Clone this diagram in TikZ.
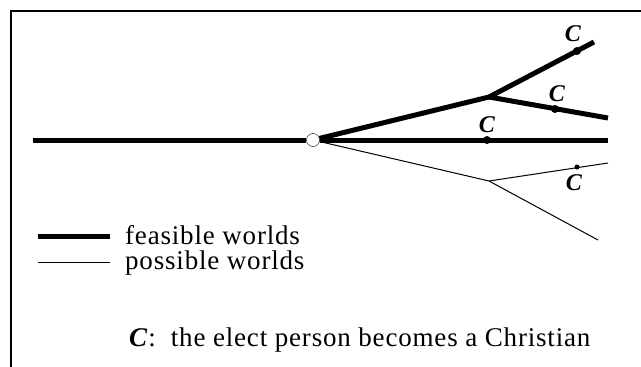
\documentclass[tikz,border=0pt]{standalone}
\usepackage{fontspec}
\setmainfont[LetterSpace=3]{Liberation Serif}
\tikzset{
  feasible/.style={line width=5pt},
  possible/.style={line width=1pt},
  event/.style={circle, fill=black, inner sep=0pt, minimum size=5pt},
  bigevent/.style={event, minimum size=8pt},
  elabel/.style={font=\fontsize{24}{24}\selectfont\bfseries\itshape, inner sep=0pt},
  legtext/.style={font=\fontsize{27}{30}\selectfont, inner sep=0pt, anchor=base west},
}
\begin{document}
\begin{tikzpicture}[x=1pt,y=-1pt]
  \useasboundingbox (0,0) rectangle (641,367);
  \draw[line width=2pt] (11,367) -- (11,11) -- (641,11);
  % points of the tree
  \coordinate (start) at (33,140);
  \coordinate (up) at (489,97);
  \coordinate (down) at (489,181);
  \coordinate (end1) at (594,42);
  \coordinate (end2) at (608,118);
  \coordinate (end3) at (608,140);
  \coordinate (end4) at (608,163);
  \coordinate (end5) at (598,240);
  \node[circle, draw, fill=white, minimum size=13pt, inner sep=0pt] (now) at (313,140) {};
  % feasible worlds
  \draw[feasible] (start) -- (now.west);
  \draw[feasible] (now) -- (up) -- (end1);
  \draw[feasible] (up) -- (end2);
  \draw[feasible] (now) -- (end3);
  % possible worlds
  \draw[possible] (now) -- (down) -- (end4);
  \draw[possible] (down) -- (end5);
  % the events C
  \node[bigevent] (c1) at (577,51) {};
  \node[bigevent] (c2) at (555,109) {};
  \node[bigevent] (c3) at (487,140) {};
  \node[event] (c4) at (577,167) {};
  \node[elabel] (l1) at (573,34) {C};
  \node[elabel] (l2) at (557,94) {C};
  \node[elabel] (l3) at (487,125) {C};
  \node[elabel] (l4) at (574,183) {C};
  % legend
  \coordinate (k1) at (38,236);
  \coordinate (k1e) at (110,236);
  \coordinate (k2) at (38,262);
  \coordinate (k2e) at (110,262);
  \draw[feasible] (k1) -- (k1e);
  \draw[possible] (k2) -- (k2e);
  \node[legtext] (t1) at (125,244) {feasible worlds};
  \node[legtext] (t2) at (125,269) {possible worlds};
  \node[legtext] (t3) at (129,346) {\textbf{\textit{C}}:\ \ the elect person becomes a Christian};
\end{tikzpicture}
\end{document}
